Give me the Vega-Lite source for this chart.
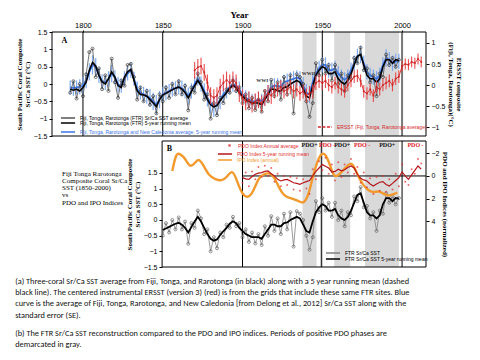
{
 "$schema": "https://vega.github.io/schema/vega-lite/v6.json",
 "background": "white",
 "padding": {"left": 15, "top": 10, "right": 5, "bottom": 5},
 "config": {
  "font": "Liberation Sans",
  "view": {"stroke": null},
  "axis": {"labelFont": "Liberation Sans", "labelFontSize": 7, "titleFont": "Liberation Serif", "titleFontWeight": "bold", "titleFontSize": 7, "tickSize": 3, "tickColor": "#000", "domainColor": "#000", "labelColor": "#000", "titleColor": "#000", "grid": false, "labelPadding": 2, "titlePadding": 3, "titleLineHeight": 8},
  "legend": {"labelFont": "Liberation Sans", "labelFontSize": 5, "labelLimit": 400, "rowPadding": 1, "symbolSize": 200, "symbolStrokeWidth": 1.5, "padding": 0, "title": null}
 },
 "title": {
  "text": [
   "(a) Three-coral Sr/Ca SST average from Fiji, Tonga, and Rarotonga (in black) along with a 5 year running mean (dashed",
   "black line). The centered instrumental ERSST (version 3) (red) is from the grids that include these same FTR sites. Blue",
   "curve is the average of Fiji, Tonga, Rarotonga, and New Caledonia [from Delong et al., 2012] Sr/Ca SST along with the",
   "standard error (SE)."
  ],
  "subtitle": [
   "(b) The FTR Sr/Ca SST reconstruction compared to the PDO and IPO indices. Periods of positive PDO phases are",
   "demarcated in gray."
  ],
  "orient": "bottom", "anchor": "start", "font": "Carlito, Lato, sans-serif", "fontSize": 8.3, "fontWeight": "normal",
  "color": "#111", "lineHeight": 11.2, "offset": 7,
  "subtitleFont": "Carlito, Lato, sans-serif", "subtitleFontSize": 8.3, "subtitleColor": "#111", "subtitleLineHeight": 11.2, "subtitlePadding": 10
 },
 "datasets": {
  "ftr": [
   {"year":1792,"ftr":-0.25,"ftr5":-0.15,"ncl":-0.10,"nlo":-0.30,"nhi":0.10},
   {"year":1794,"ftr":0.08,"ftr5":-0.18,"ncl":-0.12,"nlo":-0.34,"nhi":0.10},
   {"year":1796,"ftr":-0.42,"ftr5":-0.15,"ncl":-0.10,"nlo":-0.30,"nhi":0.10},
   {"year":1798,"ftr":0.00,"ftr5":-0.20,"ncl":-0.08,"nlo":-0.30,"nhi":0.14},
   {"year":1800,"ftr":-0.35,"ftr5":-0.10,"ncl":-0.05,"nlo":-0.30,"nhi":0.20},
   {"year":1802,"ftr":0.28,"ftr5":0.05,"ncl":0.10,"nlo":-0.12,"nhi":0.32},
   {"year":1804,"ftr":0.92,"ftr5":0.40,"ncl":0.35,"nlo":0.10,"nhi":0.60},
   {"year":1806,"ftr":1.02,"ftr5":0.62,"ncl":0.55,"nlo":0.27,"nhi":0.83},
   {"year":1808,"ftr":0.20,"ftr5":0.52,"ncl":0.50,"nlo":0.25,"nhi":0.75},
   {"year":1810,"ftr":0.45,"ftr5":0.25,"ncl":0.25,"nlo":0.03,"nhi":0.47},
   {"year":1812,"ftr":-0.15,"ftr5":0.06,"ncl":0.08,"nlo":-0.12,"nhi":0.28},
   {"year":1814,"ftr":0.25,"ftr5":0.00,"ncl":0.05,"nlo":-0.17,"nhi":0.27},
   {"year":1816,"ftr":-0.20,"ftr5":0.15,"ncl":0.15,"nlo":-0.07,"nhi":0.37},
   {"year":1818,"ftr":0.73,"ftr5":0.35,"ncl":0.30,"nlo":0.05,"nhi":0.55},
   {"year":1820,"ftr":0.05,"ftr5":0.20,"ncl":0.20,"nlo":0.00,"nhi":0.40},
   {"year":1822,"ftr":-0.40,"ftr5":-0.05,"ncl":-0.02,"nlo":-0.24,"nhi":0.20},
   {"year":1824,"ftr":0.10,"ftr5":-0.10,"ncl":-0.05,"nlo":-0.25,"nhi":0.15},
   {"year":1826,"ftr":-0.05,"ftr5":0.20,"ncl":0.15,"nlo":-0.07,"nhi":0.37},
   {"year":1828,"ftr":0.55,"ftr5":0.35,"ncl":0.30,"nlo":0.10,"nhi":0.50},
   {"year":1830,"ftr":0.58,"ftr5":0.42,"ncl":0.40,"nlo":0.18,"nhi":0.62},
   {"year":1832,"ftr":0.20,"ftr5":0.10,"ncl":0.15,"nlo":-0.05,"nhi":0.35},
   {"year":1834,"ftr":-0.45,"ftr5":-0.20,"ncl":-0.15,"nlo":-0.37,"nhi":0.07},
   {"year":1836,"ftr":-0.10,"ftr5":-0.30,"ncl":-0.25,"nlo":-0.45,"nhi":-0.05},
   {"year":1838,"ftr":-0.50,"ftr5":-0.32,"ncl":-0.30,"nlo":-0.52,"nhi":-0.08},
   {"year":1840,"ftr":-0.20,"ftr5":-0.35,"ncl":-0.35,"nlo":-0.57,"nhi":-0.13},
   {"year":1842,"ftr":-0.60,"ftr5":-0.45,"ncl":-0.40,"nlo":-0.65,"nhi":-0.15},
   {"year":1844,"ftr":-0.35,"ftr5":-0.55,"ncl":-0.50,"nlo":-0.75,"nhi":-0.25},
   {"year":1846,"ftr":-0.85,"ftr5":-0.65,"ncl":-0.60,"nlo":-0.88,"nhi":-0.32},
   {"year":1848,"ftr":-0.30,"ftr5":-0.45,"ncl":-0.45,"nlo":-0.70,"nhi":-0.20},
   {"year":1850,"ftr":-0.50,"ftr5":-0.32,"ncl":-0.30,"nlo":-0.52,"nhi":-0.08},
   {"year":1852,"ftr":-0.10,"ftr5":-0.27,"ncl":-0.25,"nlo":-0.47,"nhi":-0.03},
   {"year":1854,"ftr":-0.40,"ftr5":-0.22,"ncl":-0.20,"nlo":-0.40,"nhi":0.00},
   {"year":1856,"ftr":0.00,"ftr5":-0.17,"ncl":-0.15,"nlo":-0.37,"nhi":0.07},
   {"year":1858,"ftr":-0.30,"ftr5":-0.12,"ncl":-0.12,"nlo":-0.32,"nhi":0.08},
   {"year":1860,"ftr":0.08,"ftr5":-0.09,"ncl":-0.08,"nlo":-0.30,"nhi":0.14},
   {"year":1862,"ftr":-0.30,"ftr5":-0.15,"ncl":-0.12,"nlo":-0.34,"nhi":0.10},
   {"year":1864,"ftr":-0.05,"ftr5":-0.25,"ncl":-0.20,"nlo":-0.42,"nhi":0.02},
   {"year":1866,"ftr":-0.76,"ftr5":-0.40,"ncl":-0.35,"nlo":-0.60,"nhi":-0.10},
   {"year":1868,"ftr":-0.10,"ftr5":-0.22,"ncl":-0.20,"nlo":-0.42,"nhi":0.02},
   {"year":1870,"ftr":-0.25,"ftr5":-0.05,"ncl":0.00,"nlo":-0.22,"nhi":0.22},
   {"year":1872,"ftr":0.30,"ftr5":0.10,"ncl":0.15,"nlo":-0.05,"nhi":0.35},
   {"year":1874,"ftr":0.05,"ftr5":-0.05,"ncl":0.00,"nlo":-0.22,"nhi":0.22},
   {"year":1876,"ftr":-0.45,"ftr5":-0.25,"ncl":-0.20,"nlo":-0.42,"nhi":0.02},
   {"year":1878,"ftr":-0.30,"ftr5":-0.45,"ncl":-0.40,"nlo":-0.65,"nhi":-0.15},
   {"year":1880,"ftr":-1.00,"ftr5":-0.60,"ncl":-0.55,"nlo":-0.85,"nhi":-0.25},
   {"year":1882,"ftr":-0.55,"ftr5":-0.66,"ncl":-0.65,"nlo":-0.95,"nhi":-0.35},
   {"year":1884,"ftr":-0.90,"ftr5":-0.62,"ncl":-0.60,"nlo":-0.90,"nhi":-0.30},
   {"year":1886,"ftr":-0.40,"ftr5":-0.48,"ncl":-0.45,"nlo":-0.73,"nhi":-0.17},
   {"year":1888,"ftr":-0.55,"ftr5":-0.36,"ncl":-0.30,"nlo":-0.55,"nhi":-0.05},
   {"year":1890,"ftr":-0.15,"ftr5":-0.25,"ncl":-0.20,"nlo":-0.42,"nhi":0.02},
   {"year":1892,"ftr":-0.25,"ftr5":-0.12,"ncl":-0.08,"nlo":-0.30,"nhi":0.14},
   {"year":1894,"ftr":0.10,"ftr5":-0.04,"ncl":0.00,"nlo":-0.22,"nhi":0.22},
   {"year":1896,"ftr":-0.20,"ftr5":-0.10,"ncl":-0.05,"nlo":-0.27,"nhi":0.17},
   {"year":1898,"ftr":-0.10,"ftr5":-0.25,"ncl":-0.15,"nlo":-0.37,"nhi":0.07},
   {"year":1900,"ftr":-0.55,"ftr5":-0.35,"ncl":-0.30,"nlo":-0.52,"nhi":-0.08},
   {"year":1902,"ftr":-0.30,"ftr5":-0.45,"ncl":-0.40,"nlo":-0.62,"nhi":-0.18},
   {"year":1904,"ftr":-0.70,"ftr5":-0.50,"ncl":-0.45,"nlo":-0.67,"nhi":-0.23},
   {"year":1906,"ftr":-0.40,"ftr5":-0.55,"ncl":-0.50,"nlo":-0.72,"nhi":-0.28},
   {"year":1908,"ftr":-0.75,"ftr5":-0.55,"ncl":-0.50,"nlo":-0.72,"nhi":-0.28},
   {"year":1910,"ftr":-0.45,"ftr5":-0.55,"ncl":-0.45,"nlo":-0.67,"nhi":-0.23},
   {"year":1912,"ftr":-0.80,"ftr5":-0.60,"ncl":-0.50,"nlo":-0.72,"nhi":-0.28},
   {"year":1914,"ftr":-0.20,"ftr5":-0.45,"ncl":-0.40,"nlo":-0.62,"nhi":-0.18},
   {"year":1916,"ftr":-0.50,"ftr5":-0.30,"ncl":-0.25,"nlo":-0.47,"nhi":-0.03},
   {"year":1918,"ftr":0.12,"ftr5":-0.15,"ncl":-0.10,"nlo":-0.32,"nhi":0.12},
   {"year":1920,"ftr":-0.35,"ftr5":-0.15,"ncl":-0.05,"nlo":-0.27,"nhi":0.17},
   {"year":1922,"ftr":0.05,"ftr5":-0.20,"ncl":-0.05,"nlo":-0.27,"nhi":0.17},
   {"year":1924,"ftr":-0.45,"ftr5":-0.20,"ncl":-0.08,"nlo":-0.30,"nhi":0.14},
   {"year":1926,"ftr":0.20,"ftr5":-0.10,"ncl":0.05,"nlo":-0.17,"nhi":0.27},
   {"year":1928,"ftr":-0.30,"ftr5":-0.08,"ncl":0.08,"nlo":-0.14,"nhi":0.30},
   {"year":1930,"ftr":0.25,"ftr5":0.00,"ncl":0.12,"nlo":-0.10,"nhi":0.34},
   {"year":1932,"ftr":-0.85,"ftr5":0.05,"ncl":0.15,"nlo":-0.07,"nhi":0.37},
   {"year":1934,"ftr":0.28,"ftr5":0.10,"ncl":0.18,"nlo":-0.04,"nhi":0.40},
   {"year":1936,"ftr":0.20,"ftr5":0.05,"ncl":0.15,"nlo":-0.07,"nhi":0.37},
   {"year":1938,"ftr":0.00,"ftr5":-0.15,"ncl":-0.05,"nlo":-0.30,"nhi":0.20},
   {"year":1940,"ftr":-0.50,"ftr5":-0.35,"ncl":-0.25,"nlo":-0.50,"nhi":0.00},
   {"year":1942,"ftr":-0.95,"ftr5":-0.40,"ncl":-0.30,"nlo":-0.55,"nhi":-0.05},
   {"year":1944,"ftr":-0.55,"ftr5":-0.05,"ncl":0.05,"nlo":-0.20,"nhi":0.30},
   {"year":1946,"ftr":0.60,"ftr5":0.25,"ncl":0.30,"nlo":0.08,"nhi":0.52},
   {"year":1948,"ftr":0.25,"ftr5":0.40,"ncl":0.45,"nlo":0.23,"nhi":0.67},
   {"year":1950,"ftr":0.70,"ftr5":0.50,"ncl":0.55,"nlo":0.33,"nhi":0.77},
   {"year":1952,"ftr":0.30,"ftr5":0.45,"ncl":0.55,"nlo":0.33,"nhi":0.77},
   {"year":1954,"ftr":0.55,"ftr5":0.30,"ncl":0.40,"nlo":0.18,"nhi":0.62},
   {"year":1956,"ftr":0.10,"ftr5":0.30,"ncl":0.40,"nlo":0.18,"nhi":0.62},
   {"year":1958,"ftr":0.55,"ftr5":0.35,"ncl":0.45,"nlo":0.23,"nhi":0.67},
   {"year":1960,"ftr":0.00,"ftr5":0.15,"ncl":0.30,"nlo":0.08,"nhi":0.52},
   {"year":1962,"ftr":0.30,"ftr5":0.05,"ncl":0.20,"nlo":-0.02,"nhi":0.42},
   {"year":1964,"ftr":-0.20,"ftr5":0.00,"ncl":0.12,"nlo":-0.10,"nhi":0.34},
   {"year":1966,"ftr":0.25,"ftr5":0.10,"ncl":0.20,"nlo":-0.02,"nhi":0.42},
   {"year":1968,"ftr":0.15,"ftr5":0.30,"ncl":0.40,"nlo":0.18,"nhi":0.62},
   {"year":1970,"ftr":0.75,"ftr5":0.55,"ncl":0.60,"nlo":0.38,"nhi":0.82},
   {"year":1972,"ftr":0.60,"ftr5":0.80,"ncl":0.80,"nlo":0.58,"nhi":1.02},
   {"year":1974,"ftr":1.05,"ftr5":0.85,"ncl":0.85,"nlo":0.60,"nhi":1.10},
   {"year":1976,"ftr":0.40,"ftr5":0.55,"ncl":0.60,"nlo":0.38,"nhi":0.82},
   {"year":1978,"ftr":0.45,"ftr5":0.25,"ncl":0.35,"nlo":0.13,"nhi":0.57},
   {"year":1980,"ftr":0.05,"ftr5":0.15,"ncl":0.25,"nlo":0.03,"nhi":0.47},
   {"year":1982,"ftr":0.25,"ftr5":0.15,"ncl":0.20,"nlo":-0.02,"nhi":0.42},
   {"year":1984,"ftr":-0.35,"ftr5":0.05,"ncl":0.15,"nlo":-0.07,"nhi":0.37},
   {"year":1986,"ftr":0.30,"ftr5":0.15,"ncl":0.25,"nlo":0.03,"nhi":0.47},
   {"year":1988,"ftr":0.20,"ftr5":0.50,"ncl":0.55,"nlo":0.33,"nhi":0.77},
   {"year":1990,"ftr":0.85,"ftr5":0.70,"ncl":0.75,"nlo":0.50,"nhi":1.00},
   {"year":1992,"ftr":0.55,"ftr5":0.70,"ncl":0.70,"nlo":0.48,"nhi":0.92},
   {"year":1994,"ftr":0.75,"ftr5":0.60,"ncl":0.60,"nlo":0.38,"nhi":0.82},
   {"year":1996,"ftr":0.50,"ftr5":0.70,"ncl":0.65,"nlo":0.43,"nhi":0.87},
   {"year":1998,"ftr":0.70,"ftr5":0.68,"ncl":0.65,"nlo":0.43,"nhi":0.87}
  ],
  "ers": [
   {"year":1870,"ers":0.35,"elo":0.15,"ehi":0.55},{"year":1872,"ers":0.42,"elo":0.22,"ehi":0.62},
   {"year":1874,"ers":0.45,"elo":0.25,"ehi":0.65},{"year":1876,"ers":0.30,"elo":0.10,"ehi":0.50},
   {"year":1878,"ers":0.05,"elo":-0.15,"ehi":0.25},{"year":1880,"ers":-0.25,"elo":-0.45,"ehi":-0.05},
   {"year":1882,"ers":-0.30,"elo":-0.50,"ehi":-0.10},{"year":1884,"ers":-0.25,"elo":-0.45,"ehi":-0.05},
   {"year":1886,"ers":-0.05,"elo":-0.25,"ehi":0.15},{"year":1888,"ers":0.05,"elo":-0.15,"ehi":0.25},
   {"year":1890,"ers":0.12,"elo":-0.08,"ehi":0.32},{"year":1892,"ers":0.05,"elo":-0.15,"ehi":0.25},
   {"year":1894,"ers":0.12,"elo":-0.08,"ehi":0.32},{"year":1896,"ers":0.05,"elo":-0.15,"ehi":0.25},
   {"year":1898,"ers":-0.20,"elo":-0.40,"ehi":0.00},{"year":1900,"ers":-0.30,"elo":-0.50,"ehi":-0.10},
   {"year":1902,"ers":-0.40,"elo":-0.60,"ehi":-0.20},{"year":1904,"ers":-0.35,"elo":-0.55,"ehi":-0.15},
   {"year":1906,"ers":-0.45,"elo":-0.65,"ehi":-0.25},{"year":1908,"ers":-0.40,"elo":-0.60,"ehi":-0.20},
   {"year":1910,"ers":-0.35,"elo":-0.55,"ehi":-0.15},{"year":1912,"ers":-0.45,"elo":-0.65,"ehi":-0.25},
   {"year":1914,"ers":-0.30,"elo":-0.50,"ehi":-0.10},{"year":1916,"ers":-0.20,"elo":-0.40,"ehi":0.00},
   {"year":1918,"ers":-0.25,"elo":-0.45,"ehi":-0.05},{"year":1920,"ers":-0.15,"elo":-0.32,"ehi":0.02},
   {"year":1922,"ers":-0.10,"elo":-0.27,"ehi":0.07},{"year":1924,"ers":-0.05,"elo":-0.22,"ehi":0.12},
   {"year":1926,"ers":-0.15,"elo":-0.32,"ehi":0.02},{"year":1928,"ers":-0.10,"elo":-0.27,"ehi":0.07},
   {"year":1930,"ers":-0.05,"elo":-0.22,"ehi":0.12},{"year":1932,"ers":-0.15,"elo":-0.32,"ehi":0.02},
   {"year":1934,"ers":-0.10,"elo":-0.27,"ehi":0.07},{"year":1936,"ers":-0.20,"elo":-0.37,"ehi":-0.03},
   {"year":1938,"ers":-0.15,"elo":-0.32,"ehi":0.02},{"year":1940,"ers":-0.25,"elo":-0.42,"ehi":-0.08},
   {"year":1942,"ers":-0.20,"elo":-0.37,"ehi":-0.03},{"year":1944,"ers":-0.15,"elo":-0.32,"ehi":0.02},
   {"year":1946,"ers":0.05,"elo":-0.12,"ehi":0.22},{"year":1948,"ers":0.10,"elo":-0.07,"ehi":0.27},
   {"year":1950,"ers":0.05,"elo":-0.12,"ehi":0.22},{"year":1952,"ers":0.10,"elo":-0.07,"ehi":0.27},
   {"year":1954,"ers":0.00,"elo":-0.15,"ehi":0.15},{"year":1956,"ers":-0.05,"elo":-0.20,"ehi":0.10},
   {"year":1958,"ers":0.05,"elo":-0.10,"ehi":0.20},{"year":1960,"ers":-0.05,"elo":-0.20,"ehi":0.10},
   {"year":1962,"ers":-0.10,"elo":-0.25,"ehi":0.05},{"year":1964,"ers":-0.15,"elo":-0.30,"ehi":0.00},
   {"year":1966,"ers":0.00,"elo":-0.15,"ehi":0.15},{"year":1968,"ers":0.10,"elo":-0.05,"ehi":0.25},
   {"year":1970,"ers":0.20,"elo":0.05,"ehi":0.35},{"year":1972,"ers":0.22,"elo":0.07,"ehi":0.37},
   {"year":1974,"ers":0.10,"elo":-0.05,"ehi":0.25},{"year":1976,"ers":-0.15,"elo":-0.30,"ehi":0.00},
   {"year":1978,"ers":-0.20,"elo":-0.35,"ehi":-0.05},{"year":1980,"ers":-0.10,"elo":-0.25,"ehi":0.05},
   {"year":1982,"ers":-0.25,"elo":-0.40,"ehi":-0.10},{"year":1984,"ers":-0.05,"elo":-0.20,"ehi":0.10},
   {"year":1986,"ers":-0.10,"elo":-0.25,"ehi":0.05},{"year":1988,"ers":0.00,"elo":-0.15,"ehi":0.15},
   {"year":1990,"ers":0.05,"elo":-0.10,"ehi":0.20},{"year":1992,"ers":0.10,"elo":-0.05,"ehi":0.25},
   {"year":1994,"ers":0.00,"elo":-0.15,"ehi":0.15},{"year":1996,"ers":0.15,"elo":0.00,"ehi":0.30},
   {"year":1998,"ers":0.20,"elo":0.05,"ehi":0.35},{"year":2000,"ers":0.45,"elo":0.32,"ehi":0.58},
   {"year":2002,"ers":0.50,"elo":0.37,"ehi":0.63},{"year":2004,"ers":0.48,"elo":0.35,"ehi":0.61},
   {"year":2006,"ers":0.55,"elo":0.42,"ehi":0.68},{"year":2008,"ers":0.52,"elo":0.39,"ehi":0.65},
   {"year":2010,"ers":0.62,"elo":0.49,"ehi":0.75},{"year":2012,"ers":0.55,"elo":0.42,"ehi":0.68}
  ],
  "pdo": [
   {"year":1900,"pdo":0.6,"pdo5":0.15},{"year":1902,"pdo":-0.3,"pdo5":0.25},{"year":1904,"pdo":0.9,"pdo5":0.30},
   {"year":1906,"pdo":-0.4,"pdo5":0.05},{"year":1908,"pdo":0.3,"pdo5":-0.15},{"year":1910,"pdo":-0.8,"pdo5":-0.25},
   {"year":1912,"pdo":0.1,"pdo5":-0.30},{"year":1914,"pdo":-0.9,"pdo5":-0.40},{"year":1916,"pdo":0.0,"pdo5":-0.44},
   {"year":1918,"pdo":-0.7,"pdo5":-0.20},{"year":1920,"pdo":0.5,"pdo5":0.00},{"year":1922,"pdo":-0.2,"pdo5":0.30},
   {"year":1924,"pdo":0.9,"pdo5":0.44},{"year":1926,"pdo":0.0,"pdo5":0.35},{"year":1928,"pdo":0.8,"pdo5":0.30},
   {"year":1930,"pdo":0.1,"pdo5":0.45},{"year":1932,"pdo":1.2,"pdo5":0.60},{"year":1934,"pdo":0.2,"pdo5":0.65},
   {"year":1936,"pdo":1.3,"pdo5":0.73},{"year":1938,"pdo":0.3,"pdo5":0.60},{"year":1940,"pdo":1.1,"pdo5":0.50},
   {"year":1942,"pdo":1.6,"pdo5":0.40},{"year":1944,"pdo":-0.6,"pdo5":0.00},{"year":1946,"pdo":0.3,"pdo5":-0.40},
   {"year":1948,"pdo":-1.3,"pdo5":-0.70},{"year":1950,"pdo":-0.5,"pdo5":-1.00},{"year":1952,"pdo":-1.6,"pdo5":-0.85},
   {"year":1954,"pdo":-0.2,"pdo5":-0.70},{"year":1956,"pdo":-1.0,"pdo5":-0.35},{"year":1958,"pdo":0.4,"pdo5":-0.40},
   {"year":1960,"pdo":-1.2,"pdo5":-0.60},{"year":1962,"pdo":0.1,"pdo5":-0.45},{"year":1964,"pdo":-1.0,"pdo5":-0.55},
   {"year":1966,"pdo":-0.3,"pdo5":-0.75},{"year":1968,"pdo":-1.5,"pdo5":-0.88},{"year":1970,"pdo":-0.2,"pdo5":-0.70},
   {"year":1972,"pdo":-0.8,"pdo5":-0.15},{"year":1974,"pdo":0.6,"pdo5":0.20},{"year":1976,"pdo":-0.3,"pdo5":0.35},
   {"year":1978,"pdo":1.0,"pdo5":0.44},{"year":1980,"pdo":0.2,"pdo5":0.70},{"year":1982,"pdo":1.6,"pdo5":0.88},
   {"year":1984,"pdo":0.1,"pdo5":0.70},{"year":1986,"pdo":1.3,"pdo5":0.55},{"year":1988,"pdo":0.0,"pdo5":0.50},
   {"year":1990,"pdo":1.4,"pdo5":0.75},{"year":1992,"pdo":0.3,"pdo5":0.88},{"year":1994,"pdo":1.2,"pdo5":0.65},
   {"year":1996,"pdo":-0.2,"pdo5":0.40},{"year":1998,"pdo":0.9,"pdo5":0.15},{"year":2000,"pdo":-1.0,"pdo5":-0.35},
   {"year":2002,"pdo":0.5,"pdo5":0.00},{"year":2004,"pdo":0.8,"pdo5":0.30},{"year":2006,"pdo":-0.6,"pdo5":-0.10},
   {"year":2008,"pdo":-0.2,"pdo5":-0.50},{"year":2010,"pdo":-1.5,"pdo5":-0.88},{"year":2012,"pdo":-1.1,"pdo5":-0.60}
  ],
  "ipo": [
   {"year":1856,"ipo":-0.44},{"year":1858.5,"ipo":-2.1},{"year":1861,"ipo":-1.9},{"year":1864,"ipo":-1.6},
   {"year":1867,"ipo":-0.7},{"year":1870,"ipo":-1.1},{"year":1872.6,"ipo":-1.6},{"year":1875.7,"ipo":-0.9},
   {"year":1879,"ipo":0.0},{"year":1883,"ipo":0.3},{"year":1887,"ipo":0.44},{"year":1890,"ipo":0.15},
   {"year":1893.5,"ipo":-0.6},{"year":1896,"ipo":0.2},{"year":1898.5,"ipo":1.2},{"year":1901,"ipo":1.8},
   {"year":1904,"ipo":1.9},{"year":1907,"ipo":1.3},{"year":1910,"ipo":0.15},{"year":1913.3,"ipo":-0.15},
   {"year":1916.5,"ipo":-0.3},{"year":1919.6,"ipo":0.0},{"year":1922.7,"ipo":1.0},{"year":1926,"ipo":1.76},
   {"year":1929,"ipo":1.9},{"year":1932,"ipo":2.05},{"year":1935.3,"ipo":2.2},{"year":1938.4,"ipo":2.5},
   {"year":1941.6,"ipo":1.6},{"year":1943.6,"ipo":0.3},{"year":1945.7,"ipo":-0.73},{"year":1947.8,"ipo":-1.6},
   {"year":1950,"ipo":-2.05},{"year":1952,"ipo":-1.9},{"year":1954,"ipo":-1.3},{"year":1956,"ipo":-0.44},
   {"year":1958,"ipo":0.15},{"year":1961,"ipo":-0.15},{"year":1964.5,"ipo":-0.73},{"year":1967.7,"ipo":-1.2},
   {"year":1969.8,"ipo":-0.88},{"year":1972.9,"ipo":0.15},{"year":1976,"ipo":0.88},{"year":1979,"ipo":1.3},
   {"year":1982.3,"ipo":1.47},{"year":1985.5,"ipo":1.3},{"year":1988.6,"ipo":1.6},{"year":1991.7,"ipo":1.76},
   {"year":1994.8,"ipo":1.6},{"year":1997,"ipo":1.47}
  ],
  "bands": [{"start":1937.6,"end":1946.4},{"start":1957.5,"end":1967.5},{"start":1976.8,"end":1998}],
  "pdolab": [
   {"year":1942,"label":"PDO+"},{"year":1953,"label":"PDO -"},{"year":1962.5,"label":"PDO+"},
   {"year":1975,"label":"PDO -"},{"year":1990.7,"label":"PDO+"},{"year":2008.4,"label":"PDO -"}
  ]
 },
 "vconcat": [
  {
   "width": 374, "height": 104,
   "resolve": {"scale": {"y": "independent", "color": "independent"}},
   "layer": [
    {"data": {"name": "bands"}, "mark": {"type": "rect", "color": "#d9d9d9"},
     "encoding": {
      "x": {"field": "start", "type": "quantitative", "scale": {"domain": [1780.6, 2015], "nice": false, "zero": false},
            "axis": {"orient": "top", "values": [1800,1850,1900,1950,2000], "format": "d", "title": "Year", "titleFontSize": 9, "labelFontSize": 7.5, "tickSize": 2, "labelPadding": 1, "titlePadding": 2, "domain": false}},
      "x2": {"field": "end"}}},
    {"data": {"values": [{"year":1800},{"year":1850},{"year":1900},{"year":1950}]}, "mark": {"type": "rule", "color": "#000", "strokeWidth": 1},
     "encoding": {"x": {"field": "year", "type": "quantitative"}}},
    {"data": {"values": [{"year":2000}]}, "mark": {"type": "rule", "color": "#777", "strokeWidth": 2},
     "encoding": {"x": {"field": "year", "type": "quantitative"}}},
    {"data": {"values": [{"a":1780.6,"b":2015}]}, "mark": {"type": "rect", "filled": false, "color": "#000", "strokeWidth": 1},
     "encoding": {"x": {"field": "a", "type": "quantitative"}, "x2": {"field": "b"}}},
    {"data": {"name": "ftr"}, "mark": {"type": "rule", "color": "#6a9cf0", "strokeWidth": 1.2, "opacity": 0.85},
     "encoding": {
      "x": {"field": "year", "type": "quantitative"},
      "y": {"field": "nlo", "type": "quantitative", "scale": {"domain": [-1.5, 1.5], "nice": false, "zero": false},
            "axis": {"orient": "left", "values": [-1.5,-1,-0.5,0,0.5,1,1.5], "format": "~g", "title": ["South Pacific Coral Composite", "Sr/Ca SST (°C)"], "domain": false}},
      "y2": {"field": "nhi"}}},
    {"data": {"name": "ftr"}, "mark": {"type": "line", "strokeWidth": 1.8},
     "encoding": {
      "x": {"field": "year", "type": "quantitative"},
      "y": {"field": "ncl", "type": "quantitative", "scale": {"domain": [-1.5, 1.5], "nice": false, "zero": false}, "axis": null},
      "color": {"datum": "Fiji, Tonga, Rarotonga and New Caledonia average, 5-year running mean", "scale": {"range": ["#3b74e4"]},
                "legend": {"orient": "none", "legendX": 8, "legendY": 92, "labelColor": "#3b74e4"}}}},
    {"data": {"name": "ftr"}, "mark": {"type": "line", "strokeWidth": 0.8},
     "encoding": {
      "x": {"field": "year", "type": "quantitative"},
      "y": {"field": "ftr", "type": "quantitative", "scale": {"domain": [-1.5, 1.5], "nice": false, "zero": false}, "axis": null},
      "color": {"datum": "Fiji, Tonga, Rarotonga (FTR) Sr/Ca SST average", "scale": {"range": ["#555555"]},
                "legend": {"orient": "none", "legendX": 8, "legendY": 78, "labelColor": "#000"}}}},
    {"data": {"name": "ftr"}, "mark": {"type": "point", "filled": false, "color": "#222", "size": 9, "strokeWidth": 0.9},
     "encoding": {
      "x": {"field": "year", "type": "quantitative"},
      "y": {"field": "ftr", "type": "quantitative", "scale": {"domain": [-1.5, 1.5], "nice": false, "zero": false}, "axis": null}}},
    {"data": {"name": "ftr"}, "mark": {"type": "line", "strokeWidth": 1.6},
     "encoding": {
      "x": {"field": "year", "type": "quantitative"},
      "y": {"field": "ftr5", "type": "quantitative", "scale": {"domain": [-1.5, 1.5], "nice": false, "zero": false}, "axis": null},
      "color": {"datum": "Fiji, Tonga, Rarotonga (FTR) 5-year running mean", "scale": {"range": ["#000000"]},
                "legend": {"orient": "none", "legendX": 8, "legendY": 83, "labelColor": "#000"}}}},
    {"data": {"values": [{"x":1786.5,"y":1.24,"t":"A"}]}, "mark": {"type": "text", "color": "#000", "font": "Liberation Serif", "fontWeight": "bold", "fontSize": 8, "align": "left", "baseline": "middle"},
     "encoding": {"x": {"field": "x", "type": "quantitative"}, "y": {"field": "y", "type": "quantitative", "scale": {"domain": [-1.5, 1.5], "nice": false, "zero": false}, "axis": null}, "text": {"field": "t"}}},
    {"data": {"values": [{"x":1912.3,"y":0.11,"t":"WWI"},{"x":1941.5,"y":0.33,"t":"WWII"}]}, "mark": {"type": "text", "font": "Liberation Serif", "fontWeight": "bold", "fontSize": 5, "color": "#333", "baseline": "middle"},
     "encoding": {"x": {"field": "x", "type": "quantitative"}, "y": {"field": "y", "type": "quantitative", "scale": {"domain": [-1.5, 1.5], "nice": false, "zero": false}, "axis": null}, "text": {"field": "t"}}},
    {"data": {"name": "ers"}, "mark": {"type": "rule", "color": "#e8393b", "strokeWidth": 1.1, "opacity": 0.9},
     "encoding": {
      "x": {"field": "year", "type": "quantitative"},
      "y": {"field": "elo", "type": "quantitative", "scale": {"domain": [-1.21, 1.26], "nice": false, "zero": false},
            "axis": {"orient": "right", "values": [-1,-0.5,0,0.5,1], "format": "~g", "title": ["ERSST composite", "(Fiji, Tonga, Rarotonga)(°C)"], "domain": false}},
      "y2": {"field": "ehi"}}},
    {"data": {"name": "ers"}, "mark": {"type": "line", "strokeWidth": 0.9},
     "encoding": {
      "x": {"field": "year", "type": "quantitative"},
      "y": {"field": "ers", "type": "quantitative", "scale": {"domain": [-1.21, 1.26], "nice": false, "zero": false}, "axis": null},
      "color": {"datum": "ERSST (Fiji, Tonga, Rarotonga average)", "scale": {"range": ["#d62728"]},
                "legend": {"orient": "none", "legendX": 265, "legendY": 87, "symbolDash": [3, 1.5], "labelColor": "#d62728"}}}},
    {"data": {"name": "ers"}, "mark": {"type": "point", "filled": true, "color": "#c81e1e", "size": 5},
     "encoding": {
      "x": {"field": "year", "type": "quantitative"},
      "y": {"field": "ers", "type": "quantitative", "scale": {"domain": [-1.21, 1.26], "nice": false, "zero": false}, "axis": null}}}
   ]
  },
  {
   "width": 374, "height": 126,
   "resolve": {"scale": {"y": "independent", "color": "independent"}},
   "layer": [
    {"data": {"name": "bands"}, "mark": {"type": "rect", "color": "#d9d9d9"},
     "encoding": {
      "x": {"field": "start", "type": "quantitative", "scale": {"domain": [1780.6, 2015], "nice": false, "zero": false}, "axis": null},
      "x2": {"field": "end"}}},
    {"data": {"values": [{"year":1900},{"year":2000}]}, "mark": {"type": "rule", "color": "#000", "strokeWidth": 1},
     "encoding": {"x": {"field": "year", "type": "quantitative"}}},
    {"data": {"values": [{"year":1949.5}]}, "mark": {"type": "rule", "color": "#333", "strokeWidth": 1.5},
     "encoding": {"x": {"field": "year", "type": "quantitative"}}},
    {"data": {"values": [{"a":1849.6,"b":2015}]}, "mark": {"type": "rect", "filled": false, "color": "#000", "strokeWidth": 1},
     "encoding": {"x": {"field": "a", "type": "quantitative"}, "x2": {"field": "b"}}},
    {"data": {"name": "ftr"}, "transform": [{"filter": "datum.year >= 1850"}], "mark": {"type": "line", "strokeWidth": 0.8},
     "encoding": {
      "x": {"field": "year", "type": "quantitative"},
      "y": {"field": "ftr", "type": "quantitative", "scale": {"domain": [-1.5, 2.52], "nice": false, "zero": false},
            "axis": {"orient": "left", "offset": -110, "values": [-1.5,-1,-0.5,0,0.5,1,1.5], "format": "~g", "title": ["South Pacific Coral Composite", "Sr/Ca SST (°C)"], "domain": false}},
      "color": {"datum": "FTR Sr/Ca SST", "scale": {"range": ["#808080"]},
                "legend": {"orient": "none", "legendX": 273, "legendY": 104}}}},
    {"data": {"name": "ftr"}, "transform": [{"filter": "datum.year >= 1850"}], "mark": {"type": "point", "filled": false, "color": "#555", "size": 9, "strokeWidth": 0.9},
     "encoding": {
      "x": {"field": "year", "type": "quantitative"},
      "y": {"field": "ftr", "type": "quantitative", "scale": {"domain": [-1.5, 2.52], "nice": false, "zero": false}, "axis": null}}},
    {"data": {"name": "ftr"}, "transform": [{"filter": "datum.year >= 1850"}], "mark": {"type": "line", "strokeWidth": 1.8},
     "encoding": {
      "x": {"field": "year", "type": "quantitative"},
      "y": {"field": "ftr5", "type": "quantitative", "scale": {"domain": [-1.5, 2.52], "nice": false, "zero": false}, "axis": null},
      "color": {"datum": "FTR Sr/Ca SST 5-year running mean", "scale": {"range": ["#000000"]},
                "legend": {"orient": "none", "legendX": 273, "legendY": 110}}}},
    {"data": {"values": [{"x":1786.9,"y":1.6}]}, "mark": {"type": "text", "color": "#000", "align": "left", "baseline": "top", "font": "Liberation Serif", "fontSize": 7, "lineHeight": 7.2,
                                        "text": ["Fiji Tonga Rarotonga", "Composite Coral Sr/Ca", "SST (1850-2000)", "vs", "PDO and IPO Indices"]},
     "encoding": {"x": {"field": "x", "type": "quantitative"}, "y": {"field": "y", "type": "quantitative", "scale": {"domain": [-1.5, 2.52], "nice": false, "zero": false}, "axis": null}}},
    {"data": {"values": [{"x":1852.5,"y":2.27,"t":"B"}]}, "mark": {"type": "text", "color": "#000", "font": "Liberation Serif", "fontWeight": "bold", "fontSize": 8, "align": "left", "baseline": "middle"},
     "encoding": {"x": {"field": "x", "type": "quantitative"}, "y": {"field": "y", "type": "quantitative", "scale": {"domain": [-1.5, 2.52], "nice": false, "zero": false}, "axis": null}, "text": {"field": "t"}}},
    {"data": {"name": "pdolab"}, "transform": [{"filter": "datum.label == 'PDO+'"}],
     "mark": {"type": "text", "font": "Liberation Serif", "fontWeight": "bold", "fontSize": 6, "color": "#111", "baseline": "middle", "dy": -59},
     "encoding": {"x": {"field": "year", "type": "quantitative"}, "text": {"field": "label"}}},
    {"data": {"name": "pdolab"}, "transform": [{"filter": "datum.label == 'PDO -'"}],
     "mark": {"type": "text", "font": "Liberation Serif", "fontWeight": "bold", "fontSize": 6, "color": "#e02424", "baseline": "middle", "dy": -59},
     "encoding": {"x": {"field": "year", "type": "quantitative"}, "text": {"field": "label"}}},
    {"data": {"values": [{"a":1900,"b":2015,"z":0}]}, "mark": {"type": "rule", "color": "#000", "strokeWidth": 1},
     "encoding": {"x": {"field": "a", "type": "quantitative"}, "x2": {"field": "b"},
                  "y": {"field": "z", "type": "quantitative", "scale": {"domain": [-3.08, 8.02], "reverse": true, "nice": false, "zero": false},
                        "axis": {"orient": "right", "values": [-2,0,2,4], "title": "PDO and IPO Indices (normalized)", "domain": false}}}},
    {"data": {"name": "ipo"}, "mark": {"type": "line", "strokeWidth": 2.4, "interpolate": "basis"},
     "encoding": {
      "x": {"field": "year", "type": "quantitative"},
      "y": {"field": "ipo", "type": "quantitative", "scale": {"domain": [-3.08, 8.02], "reverse": true, "nice": false, "zero": false}, "axis": null},
      "color": {"datum": "IPO Index (annual)", "scale": {"range": ["#f29a2e"]},
                "legend": {"orient": "none", "legendX": 165, "legendY": 11, "labelFontSize": 5, "labelColor": "#f29a2e"}}}},
    {"data": {"name": "pdo"}, "mark": {"type": "point", "filled": true, "size": 4},
     "encoding": {
      "x": {"field": "year", "type": "quantitative"},
      "y": {"field": "pdo", "type": "quantitative", "scale": {"domain": [-3.08, 8.02], "reverse": true, "nice": false, "zero": false}, "axis": null},
      "color": {"datum": "PDO Index Annual average", "scale": {"range": ["#e0302f"]},
               "legend": {"orient": "none", "legendX": 175, "legendY": 2, "symbolSize": 8, "labelFontSize": 5, "labelOffset": 6, "labelColor": "#e0302f"}}}},
    {"data": {"name": "pdo"}, "mark": {"type": "line", "strokeWidth": 1.2},
     "encoding": {
      "x": {"field": "year", "type": "quantitative"},
      "y": {"field": "pdo5", "type": "quantitative", "scale": {"domain": [-3.08, 8.02], "reverse": true, "nice": false, "zero": false}, "axis": null},
      "color": {"datum": "PDO Index 5-year running mean", "scale": {"range": ["#b5161b"]},
                "legend": {"orient": "none", "legendX": 165, "legendY": 5, "labelFontSize": 5, "labelColor": "#e0302f"}}}}
   ]
  }
 ],
 "spacing": 1
}
